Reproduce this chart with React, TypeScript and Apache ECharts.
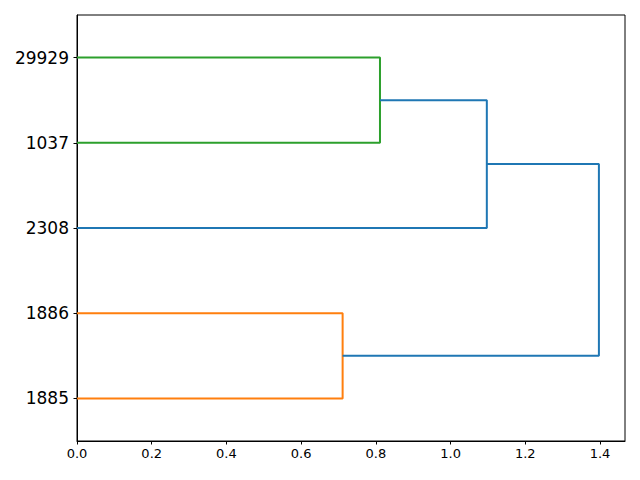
import React, { useEffect, useRef } from "react";
import * as echarts from "echarts";

const leafLabels = ["1885", "1886", "2308", "1037", "29929"];
const leafPositions = [5, 15, 25, 35, 45];
const icoord = [
  [5, 5, 15, 15],
  [35, 35, 45, 45],
  [25, 25, 40, 40],
  [10, 10, 32.5, 32.5],
];
const dcoord = [
  [0, 0.711, 0.711, 0],
  [0, 0.811, 0.811, 0],
  [0, 1.097, 1.097, 0.811],
  [0.711, 1.397, 1.397, 1.097],
];
const linkColors = ["#ff7f0e", "#2ca02c", "#1f77b4", "#1f77b4"];
const xTicks = [0, 0.2, 0.4, 0.6, 0.8, 1.0, 1.2, 1.4];
const xMax = 1.397 * 1.05;

export default function App() {
  const ref = useRef<HTMLDivElement>(null);
  useEffect(() => {
    if (!ref.current) return;
    const chart = echarts.init(ref.current, null, { renderer: "svg" });
    const series = icoord.map((ic, i) => ({
      type: "line",
      data: ic.map((y, j) => [dcoord[i][j], y]),
      showSymbol: false,
      symbol: "none",
      lineStyle: { color: linkColors[i], width: 2 },
      itemStyle: { color: linkColors[i] },
      silent: true,
    }));
    chart.setOption({
      animation: false,
      backgroundColor: "#ffffff",
      textStyle: { fontFamily: "DejaVu Sans" },
      grid: {
        left: 77,
        right: 15,
        top: 15,
        bottom: 39,
        show: true,
        borderColor: "#000000",
        borderWidth: 1,
        backgroundColor: "transparent",
      },
      xAxis: {
        type: "value",
        min: 0,
        max: xMax,
        axisLine: { show: true, onZero: false, lineStyle: { color: "#000", width: 1 } },
        axisTick: { show: true, length: 3.5, lineStyle: { color: "#000" }, customValues: xTicks },
        axisLabel: {
          color: "#000",
          fontSize: 13,
          margin: 6,
          customValues: xTicks,
          formatter: (v: number) => v.toFixed(1),
        },
        splitLine: { show: false },
      },
      yAxis: {
        type: "value",
        min: 0,
        max: 50,
        axisLine: { show: true, onZero: false, lineStyle: { color: "#000", width: 1 } },
        axisTick: { show: true, length: 3.5, lineStyle: { color: "#000" }, customValues: leafPositions },
        axisLabel: {
          color: "#000",
          fontSize: 17,
          margin: 8,
          customValues: leafPositions,
          formatter: (v: number) => {
            const idx = leafPositions.indexOf(v);
            return idx >= 0 ? leafLabels[idx] : "";
          },
        },
        splitLine: { show: false },
      },
      series,
    });
    return () => chart.dispose();
  }, []);
  return <div ref={ref} style={{ width: 640, height: 480, position: "absolute", left: 0, top: 0 }} />;
}
